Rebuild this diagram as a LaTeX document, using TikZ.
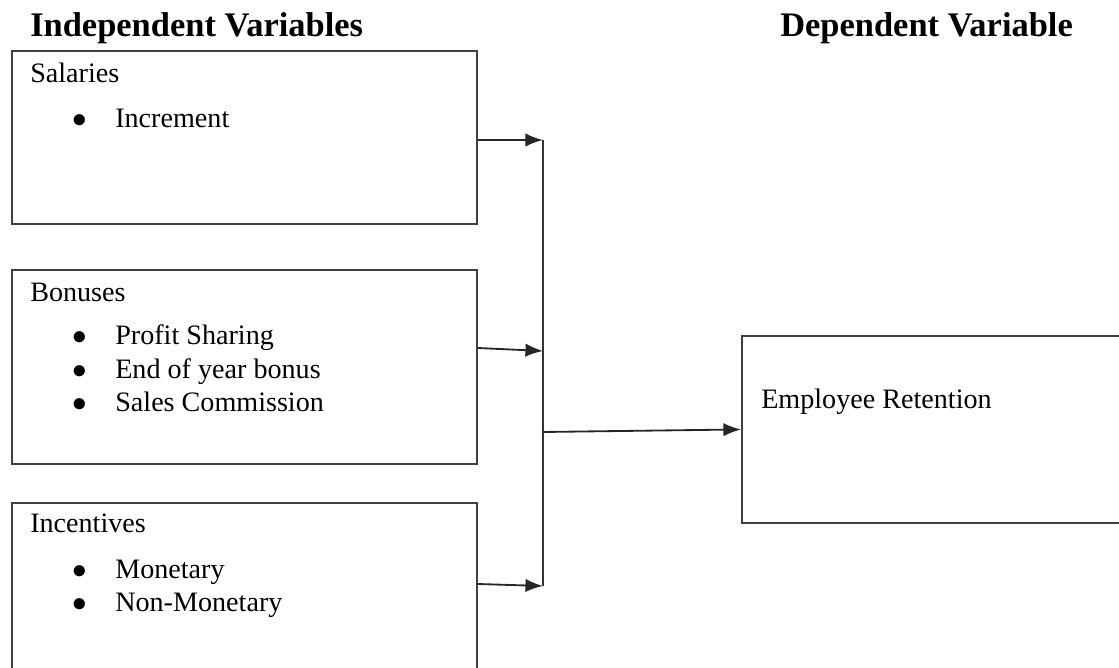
\documentclass[tikz,border=0pt]{standalone}
\usepackage{fontspec}
\setmainfont{Liberation Serif}
\usetikzlibrary{arrows.meta}

\newcommand{\bul}{\makebox[30.6pt][l]{$\bullet$}}

\begin{document}
\begin{tikzpicture}[x=0.025cm,y=-0.025cm,
    box/.style={draw=black!75,line width=1.3pt,inner sep=0pt,anchor=north west},
    arr/.style={-{Latex[length=12.5pt,width=9.5pt]},line width=1.3pt,draw=black!85},
    bus/.style={line width=1.3pt,draw=black!80},
    lbl/.style={anchor=base west,inner sep=0pt,font=\fontsize{20}{24}\selectfont,text=black},
    head/.style={anchor=base west,inner sep=0pt,font=\fontsize{24.5}{29}\selectfont\bfseries}]
  \useasboundingbox (0,0) rectangle (1119,668);
  \clip (0,0) rectangle (1119,668);

  % column headings
  \node[head] (hind) at (30,37) {Independent Variables};
  \node[head] (hdep) at (780,37) {Dependent Variable};

  % independent variable boxes
  \node[box,minimum width=11.625cm,minimum height=4.325cm] (sal) at (11,50) {};
  \node[box,minimum width=11.625cm,minimum height=4.85cm] (bon) at (11,269) {};
  \node[box,minimum width=11.625cm,minimum height=4.6cm] (inc) at (11,502) {};

  \node[lbl] (tsal) at (30,83) {Salaries};
  \node[lbl] (tsal1) at (72,128) {\bul Increment};

  \node[lbl] (tbon) at (30,302) {Bonuses};
  \node[lbl] (tbon1) at (72,345) {\bul Profit Sharing};
  \node[lbl] (tbon2) at (72,379) {\bul End of year bonus};
  \node[lbl] (tbon3) at (72,412) {\bul Sales Commission};

  \node[lbl] (tinc) at (30,533) {Incentives};
  \node[lbl] (tinc1) at (72,578) {\bul Monetary};
  \node[lbl] (tinc2) at (72,611) {\bul Non-Monetary};

  % dependent variable box
  \node[box,minimum width=9.9cm,minimum height=4.675cm] (ret) at (741,335) {};
  \node[lbl] (tret) at (761,409) {Employee Retention};

  % connectors
  \coordinate (j1) at (543,140);
  \coordinate (j2) at (543,351);
  \coordinate (j3) at (543,586);
  \coordinate (jm) at (543,432);
  \draw[bus] (j1) -- (j3);
  \draw[arr] (sal.east |- j1) -- (j1);
  \draw[arr] (bon.east |- 0,348) -- (j2);
  \draw[arr] (inc.east |- 0,584) -- (j3);
  \draw[arr] (jm) -- (ret.west);
\end{tikzpicture}
\end{document}
